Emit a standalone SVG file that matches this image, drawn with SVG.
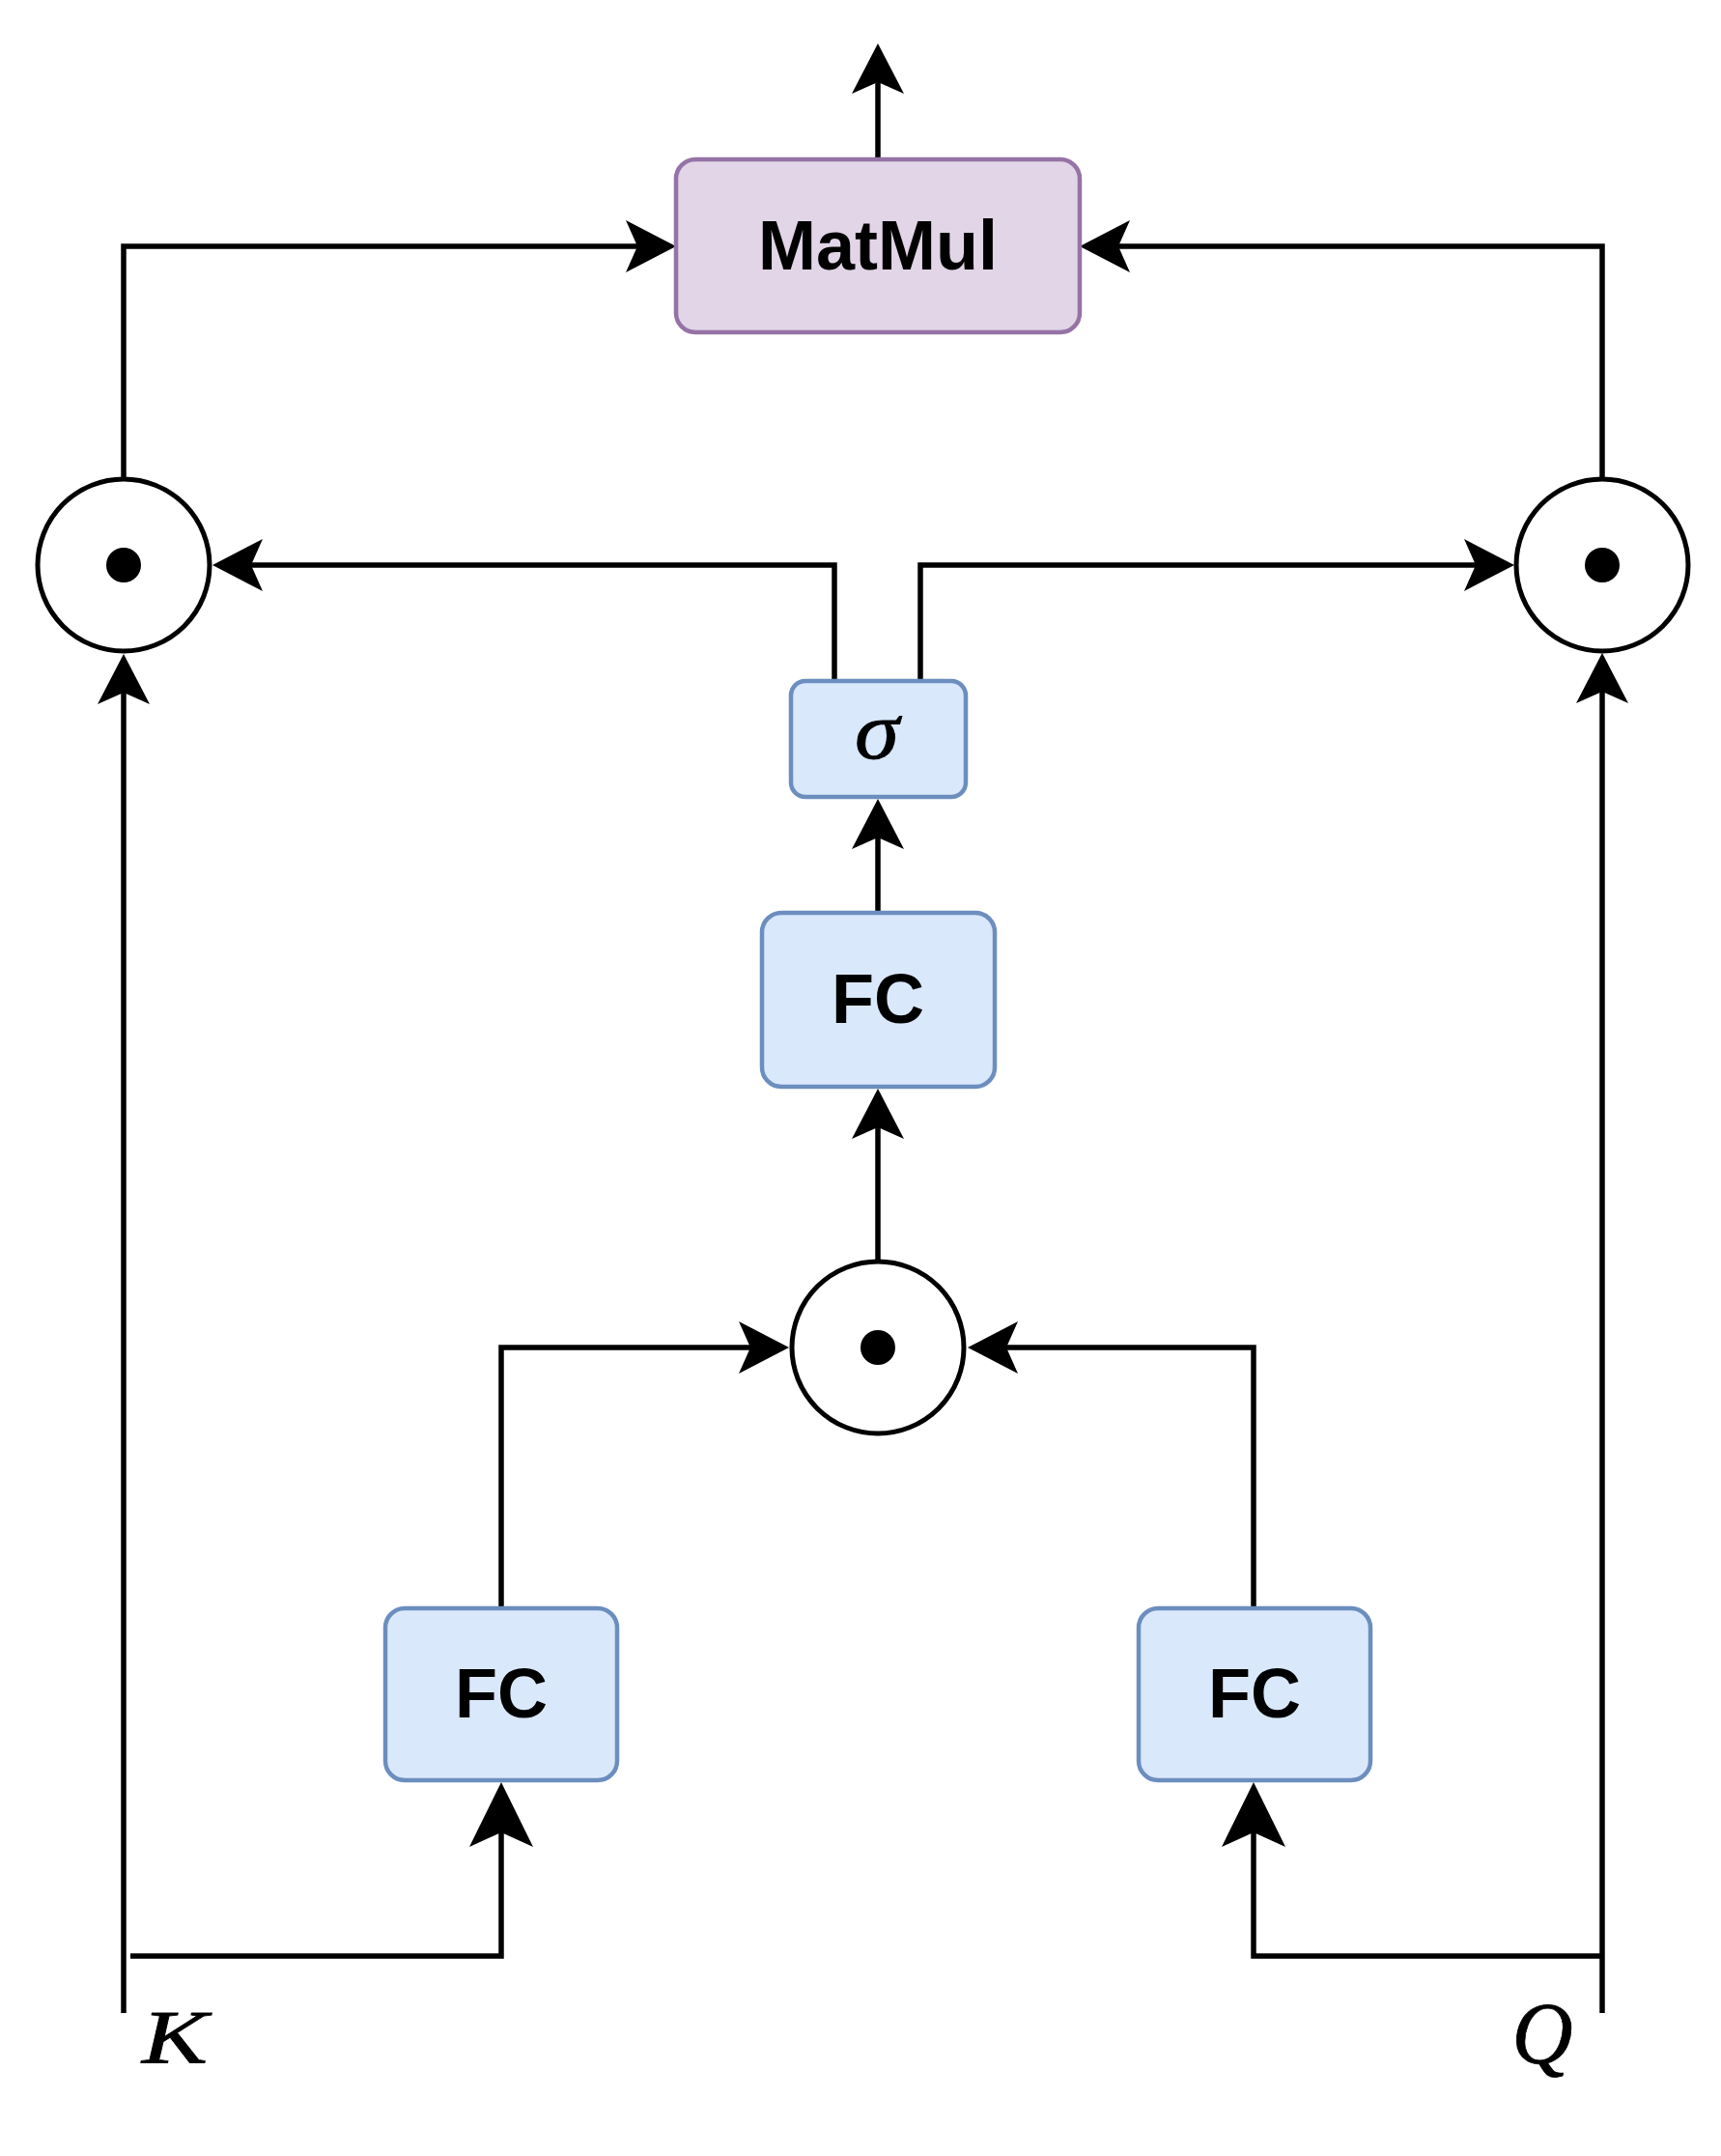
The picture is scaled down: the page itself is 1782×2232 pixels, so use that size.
<svg xmlns="http://www.w3.org/2000/svg" width="1782" height="2232" viewBox="0 0 1782 2232">
<style>
.conn{fill:none;stroke:#000;stroke-width:5.5;marker-end:url(#arr)}
.connL{fill:none;stroke:#000;stroke-width:5.5;marker-end:url(#arrL)}
.blue{fill:#dae8fc;stroke:#6c8ebf;stroke-width:4.5}
.purple{fill:#e1d5e7;stroke:#9673a6;stroke-width:4.5}
.circ{fill:#fff;stroke:#000;stroke-width:5}
.lbl{font-family:"Liberation Sans",Arial,sans-serif;font-weight:bold;font-size:72px;text-anchor:middle;fill:#000}
.math{font-family:"Liberation Serif","Times New Roman",serif;font-style:italic;text-anchor:middle;fill:#000;stroke:#000;stroke-width:0.8}
</style>
<defs>
<marker id="arr" markerUnits="userSpaceOnUse" viewBox="0 0 52 54" markerWidth="52" markerHeight="54" refX="12" refY="27" orient="auto">
<path d="M52,27 L0,0 L12,27 L0,54 Z" fill="#000"/>
</marker>
<marker id="arrL" markerUnits="userSpaceOnUse" viewBox="0 0 67 66" markerWidth="67" markerHeight="66" refX="15" refY="33" orient="auto">
<path d="M67,33 L0,0 L15,33 L0,66 Z" fill="#000"/>
</marker>
</defs>
<rect width="1782" height="2232" fill="#fff"/>
<g id="connectors">
<path class="conn" d="M909,165 L909,85"/>
<path class="conn" d="M128,495 L128,255 L660,255"/>
<path class="conn" d="M1659,495 L1659,255 L1158,255"/>
<path class="conn" d="M864,705 L864,585 L260,585"/>
<path class="conn" d="M953,705 L953,585 L1528,585"/>
<path class="conn" d="M909,945 L909,867"/>
<path class="conn" d="M909,1306 L909,1167"/>
<path class="conn" d="M519,1665 L519,1395 L777,1395"/>
<path class="conn" d="M1298,1665 L1298,1395 L1042,1395"/>
<path class="conn" d="M128,2084 L128,717"/>
<path class="connL" d="M135,2025 L519,2025 L519,1897"/>
<path class="conn" d="M1659,2084 L1659,716"/>
<path class="connL" d="M1659,2025 L1298,2025 L1298,1897"/>
</g>
<g id="matmul">
<rect class="purple" x="700" y="165" width="418" height="179" rx="20" ry="20"/>
<text class="lbl" x="909" y="279">MatMul</text>
</g>
<g id="had-left">
<circle class="circ" cx="128" cy="585" r="89"/>
<circle cx="128" cy="585" r="18" fill="#000"/>
</g>
<g id="had-right">
<circle class="circ" cx="1659" cy="585" r="89"/>
<circle cx="1659" cy="585" r="18" fill="#000"/>
</g>
<g id="sigma">
<rect class="blue" x="819" y="705" width="181" height="120" rx="15" ry="15"/>
<text class="math" x="908" y="785" font-size="84" textLength="46" lengthAdjust="spacingAndGlyphs">σ</text>
</g>
<g id="fc-mid">
<rect class="blue" x="789" y="945" width="241" height="180" rx="20" ry="20"/>
<text class="lbl" x="909" y="1059">FC</text>
</g>
<g id="had-mid">
<circle class="circ" cx="909" cy="1395" r="89"/>
<circle cx="909" cy="1395" r="18" fill="#000"/>
</g>
<g id="fc-left">
<rect class="blue" x="399" y="1665" width="240" height="178" rx="20" ry="20"/>
<text class="lbl" x="519" y="1778">FC</text>
</g>
<g id="fc-right">
<rect class="blue" x="1179" y="1665" width="240" height="178" rx="20" ry="20"/>
<text class="lbl" x="1299" y="1778">FC</text>
</g>
<g id="label-k">
<text class="math" x="181" y="2135" font-size="78" textLength="68" lengthAdjust="spacingAndGlyphs">K</text>
</g>
<g id="label-q">
<text class="math" x="1597" y="2136" font-size="90" textLength="63" lengthAdjust="spacingAndGlyphs">Q</text>
</g>
</svg>
